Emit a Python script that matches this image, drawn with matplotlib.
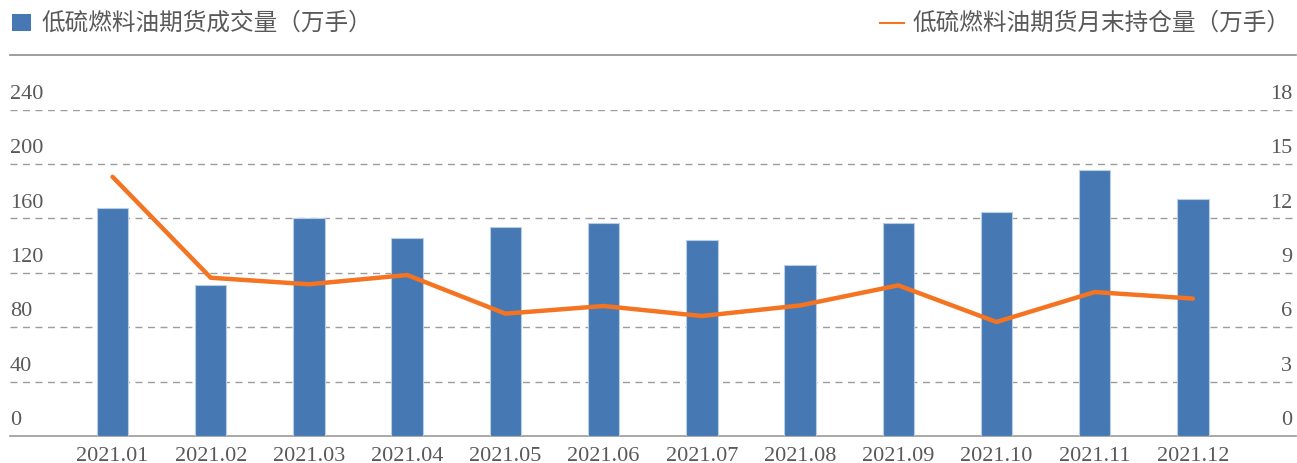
import matplotlib.pyplot as plt
from matplotlib.patches import Rectangle
from matplotlib.lines import Line2D
import matplotlib.transforms as mtransforms

# --- data ---
months = ["2021.01", "2021.02", "2021.03", "2021.04", "2021.05", "2021.06",
          "2021.07", "2021.08", "2021.09", "2021.10", "2021.11", "2021.12"]
volume = [168, 111, 160, 146, 154, 157, 144, 125.5, 156.5, 164.5, 195.5, 174]
open_interest = [14.3, 8.73, 8.37, 8.88, 6.75, 7.17, 6.62, 7.2, 8.31, 6.29, 7.94, 7.58]
left_ticks = [0, 40, 80, 120, 160, 200, 240]
right_ticks = [0, 3, 6, 9, 12, 15, 18]
bar_label = "低硫燃料油期货成交量（万手）"
line_label = "低硫燃料油期货月末持仓量（万手）"

BLUE = "#4679B3"
ORANGE = "#F47422"
GREY = "#595959"
GRID = "#9C9C9C"
CJK = ["Noto Sans CJK SC", "DejaVu Sans"]
SERIF = "Liberation Serif"

W, H = 1297, 464
fig = plt.figure(figsize=(W / 100, H / 100), dpi=100)

# axes box in pixels: left 10, right 1296, bottom 437, top 110.7 (the 240 gridline)
ax = fig.add_axes([10 / W, (H - 437) / H, 1286 / W, (437 - 110.7) / H])
x = list(range(len(months)))
ax.set_xlim(-1.044, 12.05)
ax.set_ylim(0, 240)

ax.bar(x, volume, width=0.32, color=BLUE, edgecolor="#b7cde8", linewidth=0.8, zorder=3)

for t in left_ticks[1:]:
    ax.axhline(t, color=GRID, lw=1.0, dashes=(5, 4), zorder=1)

for s in ["top", "left", "right"]:
    ax.spines[s].set_visible(False)
ax.spines["bottom"].set_color("#9a9a9a")
ax.spines["bottom"].set_linewidth(1.2)
ax.set_yticks([])
ax.set_xticks(x)
ax.set_xticklabels(months, fontsize=16, color=GREY, family=SERIF)
ax.tick_params(axis="x", length=0, pad=7)

ax2 = ax.twinx()
ax2.set_ylim(0, 18)
ax2.plot(x, open_interest, color=ORANGE, lw=3.2, solid_capstyle="round", zorder=4)
ax2.set_yticks([])
for s in ["top", "left", "right", "bottom"]:
    ax2.spines[s].set_visible(False)

# tick labels sit just above their gridlines, inside the plot
up = mtransforms.ScaledTranslation(0, 5 / 72, fig.dpi_scale_trans)
for t in left_ticks:
    ax.text(0.0, t, str(t), transform=ax.get_yaxis_transform() + up,
            ha="left", va="bottom", fontsize=16, color=GREY, family=SERIF)
for t in right_ticks:
    ax2.text(0.997, t, str(t), transform=ax2.get_yaxis_transform() + up,
             ha="right", va="bottom", fontsize=16, color=GREY, family=SERIF)

# legend row along the top
fig.add_artist(Rectangle((12 / W, 1 - 32 / H), 19 / W, 17 / H, transform=fig.transFigure,
                         facecolor=BLUE, edgecolor="none"))
fig.text(41 / W, 1 - 23 / H, bar_label, fontsize=17, color=GREY, family=CJK,
         ha="left", va="center")
fig.add_artist(Line2D([880 / W, 904 / W], [1 - 24 / H, 1 - 24 / H], transform=fig.transFigure,
                      color=ORANGE, lw=1.5))
fig.text(1290 / W, 1 - 23 / H, line_label, fontsize=17, color=GREY, family=CJK,
         ha="right", va="center")
fig.add_artist(Line2D([10 / W, 1296 / W], [1 - 56 / H, 1 - 56 / H], transform=fig.transFigure,
                      color="#8c8c8c", lw=1.2))

fig.savefig("out.png", dpi=100)
